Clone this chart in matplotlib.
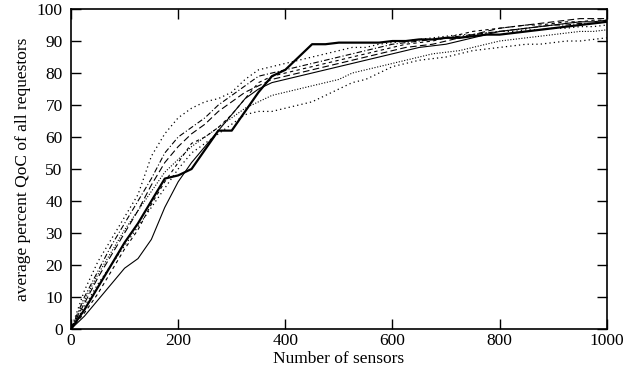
import numpy as np
import matplotlib
matplotlib.use("Agg")
import matplotlib.pyplot as plt

plt.rcParams["font.family"] = ["Liberation Serif", "DejaVu Serif"]

SENSORS = list(range(0, 1001, 25))

# average percent QoC, one list per run
RUN_BOLD = [0, 6, 13, 20, 27, 33, 40, 47, 48, 50, 56, 62, 62, 68, 74, 79, 81, 85, 89, 89,
            89.5, 89.5, 89.5, 89.5, 90, 90, 90.5, 90.5, 91, 91, 91.5, 92, 92, 92.5, 93, 93.5,
            94, 94.5, 95, 95.5, 96]
RUN_THIN = [0, 4, 9, 14, 19, 22, 28, 38, 46, 52, 57, 62, 67, 72, 75, 77, 78, 79, 80, 81,
            82, 83, 84, 85, 86, 87, 88, 88.5, 89, 90, 91, 92, 93, 93.5, 94, 94.5,
            95, 95.5, 96, 96, 96.5]
RUN_DOT_HIGH = [0, 12, 21, 28, 35, 42, 54, 61, 66, 69, 71, 72, 74, 78, 81, 82, 83, 84, 85, 86,
                87, 88, 88, 89, 89.5, 90, 90.5, 91, 91.5, 92, 92, 92.5, 93, 93, 93.5, 93.5,
                94, 94, 94.5, 94.5, 95]
RUN_DOT_LOW = [0, 7, 14, 20, 26, 32, 38, 44, 50, 55, 58, 61, 64, 67, 68, 68, 69, 70, 71, 73,
               75, 77, 78, 80, 82, 83, 84, 84.5, 85, 86, 87, 87.5, 88, 88.5, 89, 89,
               89.5, 90, 90, 90.5, 91]
RUN_DASH_LONG = [0, 8, 16, 23, 30, 37, 45, 52, 57, 61, 64, 68, 71, 74, 76, 78, 79, 80, 81, 82,
                 83, 84, 85, 86, 87, 88, 88.5, 89, 90, 91, 92, 93, 94, 94.5, 95, 95.5,
                 96, 96.5, 97, 97, 97]
RUN_DASH_SHORT = [0, 5, 11, 18, 25, 31, 39, 46, 52, 58, 60, 63, 67, 72, 77, 79, 80, 81, 82, 83,
                  84, 85, 86, 87, 88, 89, 89.5, 90, 91, 92, 93, 93.5, 94, 94.5, 95, 95,
                  95.5, 96, 96, 96.5, 96.5]
RUN_DOT_FINE = [0, 9, 17, 24, 31, 37, 43, 49, 53, 57, 60, 63, 66, 69, 71, 73, 74, 75, 76, 77,
                78, 80, 81, 82, 83, 84, 85, 86, 86.5, 87, 88, 89, 90, 90.5, 91, 91.5,
                92, 92.5, 93, 93, 93.5]
RUN_DASH_DOT = [0, 10, 18, 26, 33, 40, 47, 55, 60, 63, 66, 70, 73, 76, 79, 80, 81, 82, 83, 84,
                85, 86, 87, 88, 89, 89.5, 90, 90.5, 91, 91.5, 92, 92.5, 93, 93.5, 94, 94.5,
                95, 95, 95.5, 95.5, 96]

RUNS = [
    (RUN_THIN, "-", 0.8),
    (RUN_DOT_HIGH, (0, (1, 2.5)), 0.9),
    (RUN_DOT_LOW, (0, (1, 2.5)), 0.9),
    (RUN_DASH_LONG, (0, (6, 3)), 0.8),
    (RUN_DASH_SHORT, (0, (3, 3)), 0.8),
    (RUN_DOT_FINE, (0, (1, 1.5)), 0.8),
    (RUN_DASH_DOT, (0, (5, 2, 1, 2)), 0.8),
    (RUN_BOLD, "-", 1.6),
]

fig = plt.figure(figsize=(6.34, 3.76), dpi=100)
ax = fig.add_axes([0.112, 0.125, 0.845, 0.851])

for values, style, lw in RUNS:
    ax.plot(SENSORS, values, color="black", ls=style, lw=lw)

ax.set_xlim(0, 1000)
ax.set_ylim(0, 100)
ax.set_xticks(range(0, 1001, 200))
ax.set_yticks(range(0, 101, 10))
ax.tick_params(direction="in", length=7, width=1, top=True, right=True,
               labelsize=12.5)
ax.tick_params(axis="y", pad=6)
ax.tick_params(axis="x", pad=3)
for spine in ax.spines.values():
    spine.set_linewidth(1.2)

ax.set_xlabel("Number of sensors", fontsize=12.5, labelpad=1)
ax.set_ylabel("average percent QoC of all requestors", fontsize=12.5, labelpad=4)

fig.savefig("out.png", dpi=100)
